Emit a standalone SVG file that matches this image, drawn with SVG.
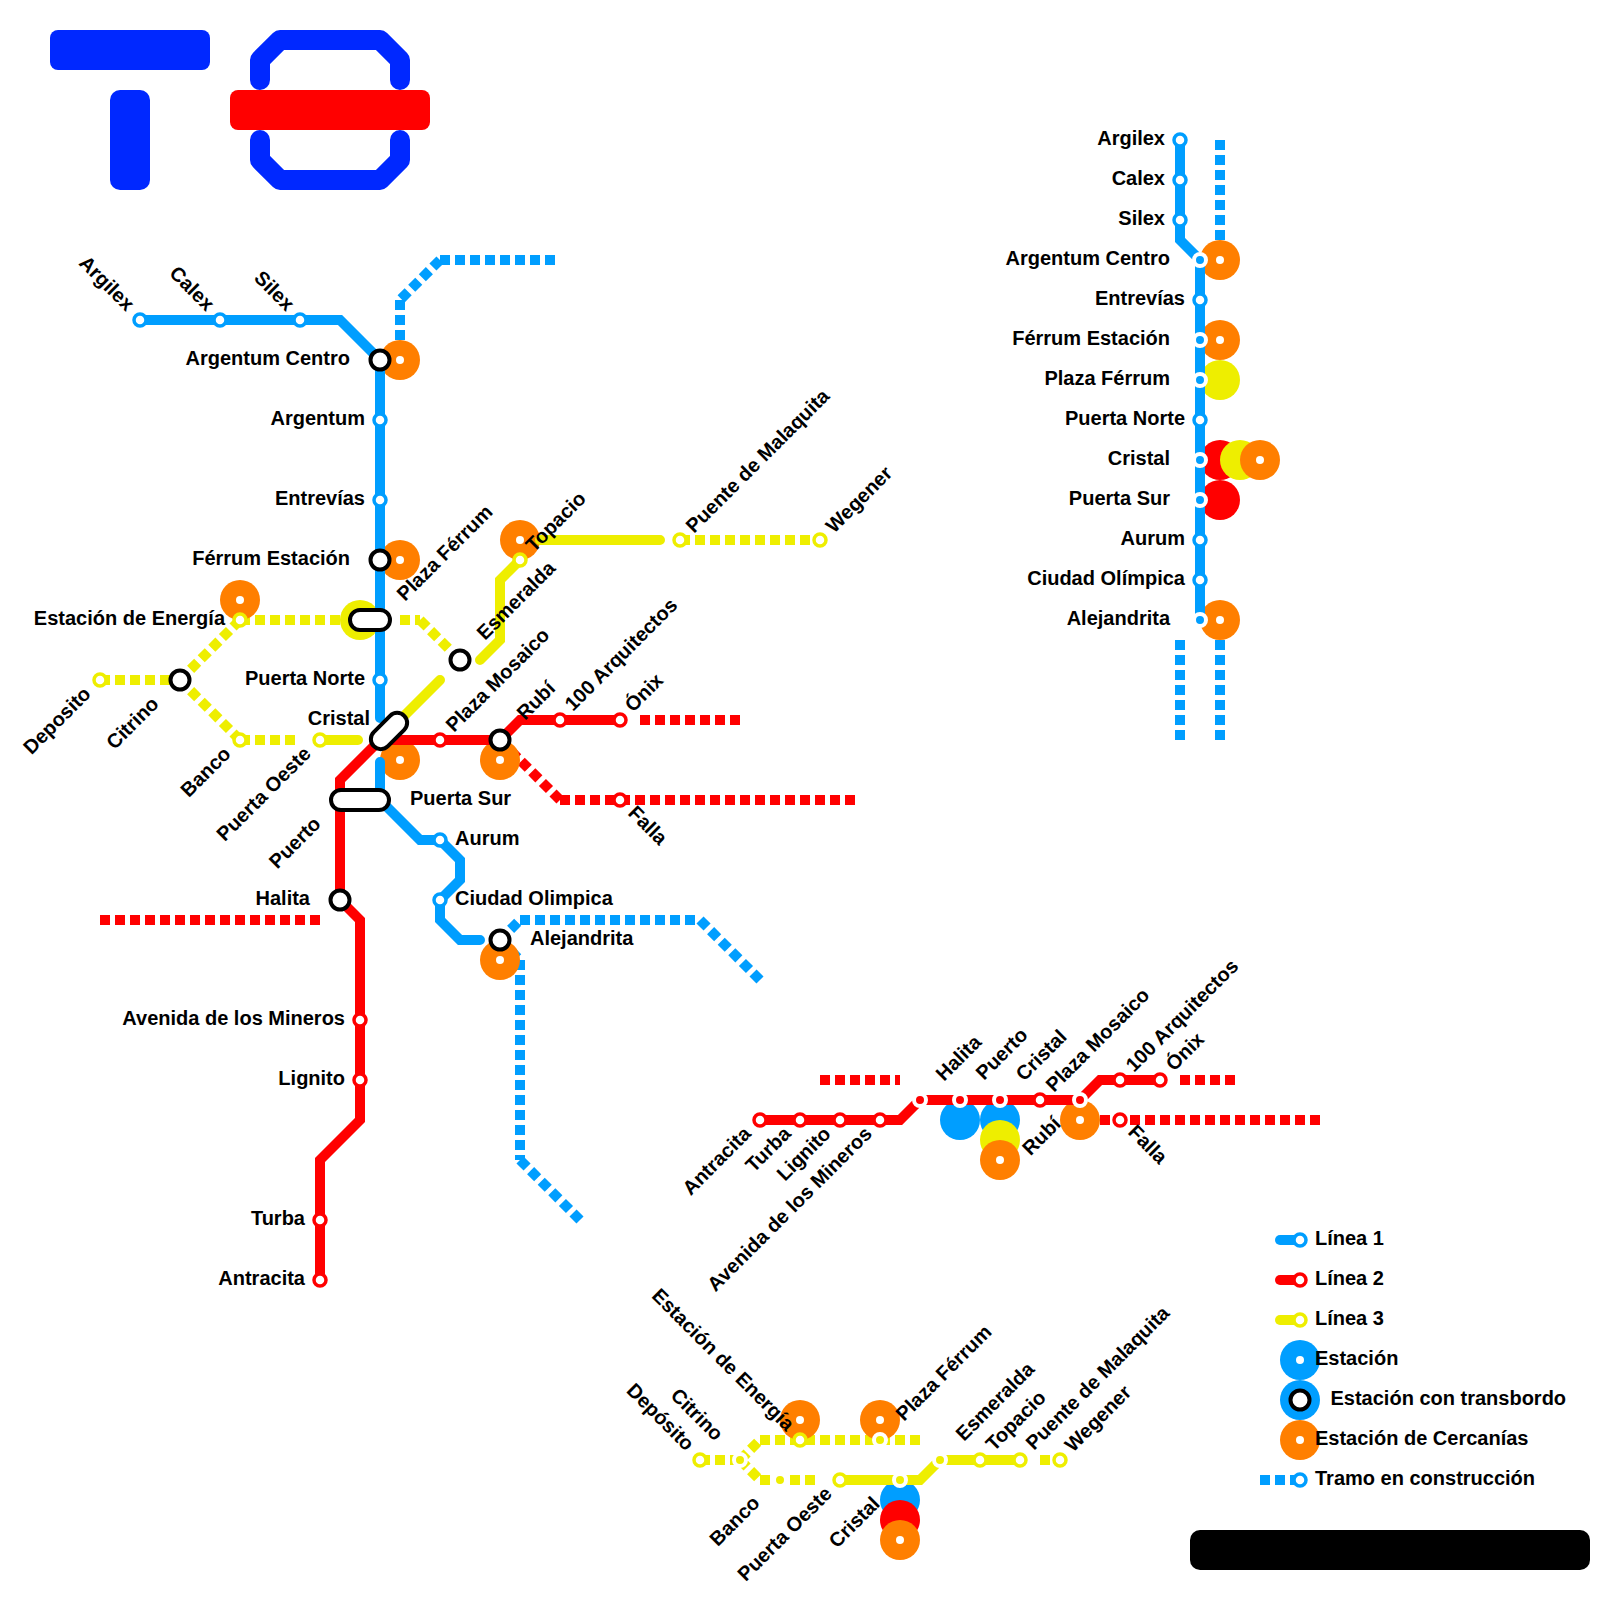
<svg xmlns="http://www.w3.org/2000/svg" width="1600" height="1600" viewBox="0 0 1600 1600">
<style>
text{font-family:"Liberation Sans",Arial,sans-serif;font-weight:bold;font-size:20px;fill:#000}
.e{text-anchor:end}
.ln{fill:none;stroke-width:10;stroke-linejoin:miter;stroke-linecap:round}
.da{fill:none;stroke-width:10;stroke-dasharray:10 5;stroke-linecap:butt;stroke-linejoin:miter}
.B{stroke:#009eff}.R{stroke:#ff0000}.Y{stroke:#eeee00}
.dB{fill:#009eff}.dR{fill:#ff0000}.dY{fill:#eeee00}.dO{fill:#ff7f00}
.dot{fill:#fff}
.st{fill:#fff;stroke-width:3.5}
.tb{stroke:#fff;stroke-width:4}
.tbB{fill:#009eff}.tbR{fill:#ff0000}.tbY{fill:#eeee00}
.ic{fill:#fff;stroke:#000;stroke-width:4}
</style>
<g id="logo">
<rect x="50" y="30" width="160" height="40" rx="8" fill="#0028ff"/>
<rect x="110" y="90" width="40" height="100" rx="10" fill="#0028ff"/>
<path d="M260,80V60L280,40H380L400,60V80M260,140V160L280,180H380L400,160V140" fill="none" stroke="#0028ff" stroke-width="20" stroke-linecap="round" stroke-linejoin="round"/>
<rect x="230" y="90" width="200" height="40" rx="8" fill="#ff0000"/>
</g>
<g id="connectors-construction">
<path class="da B" d="M400,300V360M440,260L400,300M440,260H560"/>
<path class="da B" d="M500,940L520,920M520,920H700M700,920L760,980"/>
<path class="da B" d="M500,940L520,960M520,960V1160M520,1160L580,1220"/>
<path class="da B" d="M1220,140V260M1180,640V740M1220,640V740"/>
<path class="da R" d="M640,720H740M500,740L560,800M560,800H860M100,920H320"/>
<path class="da R" d="M820,1080H900M1180,1080H1240M1100,1120H1320"/>
<path class="da Y" d="M100,680H180M180,680L240,620M240,620H360M180,680L240,740M240,740H300M400,620H420M420,620L449,649"/>
<path class="da Y" d="M680,540H820"/>
<path class="da Y" d="M700,1460H740M740,1460L760,1440M760,1440H920M740,1460L760,1480M760,1480H820M1040,1460H1060"/>
</g>
<g id="discs">
<circle class="dO" cx="400" cy="360" r="20"/><circle class="dO" cx="400" cy="560" r="20"/>
<circle class="dO" cx="240" cy="600" r="20"/><circle class="dY" cx="360" cy="620" r="20"/>
<circle class="dO" cx="520" cy="540" r="20"/><circle class="dO" cx="400" cy="760" r="20"/>
<circle class="dO" cx="500" cy="760" r="20"/><circle class="dO" cx="500" cy="960" r="20"/>
<circle class="dO" cx="1220" cy="260" r="20"/><circle class="dO" cx="1220" cy="340" r="20"/>
<circle class="dY" cx="1220" cy="380" r="20"/><circle class="dR" cx="1220" cy="460" r="20"/>
<circle class="dY" cx="1240" cy="460" r="20"/><circle class="dO" cx="1260" cy="460" r="20"/>
<circle class="dR" cx="1220" cy="500" r="20"/><circle class="dO" cx="1220" cy="620" r="20"/>
<circle class="dB" cx="960" cy="1120" r="20"/><circle class="dB" cx="1000" cy="1120" r="20"/>
<circle class="dY" cx="1000" cy="1140" r="20"/><circle class="dO" cx="1000" cy="1160" r="20"/>
<circle class="dO" cx="1080" cy="1120" r="20"/>
<circle class="dO" cx="800" cy="1420" r="20"/><circle class="dO" cx="880" cy="1420" r="20"/>
<circle class="dB" cx="900" cy="1500" r="20"/><circle class="dR" cx="900" cy="1520" r="20"/><circle class="dO" cx="900" cy="1540" r="20"/>
<g class="dot">
<circle cx="400" cy="360" r="4"/><circle cx="400" cy="560" r="4"/><circle cx="240" cy="600" r="4"/><circle cx="520" cy="540" r="4"/><circle cx="400" cy="760" r="4"/><circle cx="500" cy="760" r="4"/><circle cx="500" cy="960" r="4"/><circle cx="1220" cy="260" r="4"/><circle cx="1220" cy="340" r="4"/><circle cx="1260" cy="460" r="4"/><circle cx="1220" cy="620" r="4"/><circle cx="1000" cy="1160" r="4"/><circle cx="1080" cy="1120" r="4"/><circle cx="800" cy="1420" r="4"/><circle cx="880" cy="1420" r="4"/><circle cx="900" cy="1540" r="4"/>
</g>
</g>
<g id="connectors">
<path class="ln B" d="M140,320H340L380,360V718"/>
<path class="ln B" d="M380,762V800L420,840H440L460,860V880L440,900V920L460,940H480"/>
<path class="ln R" d="M320,1280V1160L360,1120V920L340,900V780L380,740H500L520,720H620"/>
<path class="ln Y" d="M320,740H358M400,720L440,680M480,660L500,640V580L520,560M540,540H660"/>
<path class="ln B" d="M1180,140V240L1200,260V620"/>
<path class="ln R" d="M760,1120H900L920,1100H1080L1100,1080H1160"/>
<path class="ln Y" d="M840,1480H920L940,1460H1020"/>
</g>
<g id="map-main">
<g id="m-argilex"><circle class="st B" cx="140" cy="320" r="6"/><text class="e" transform="translate(126,312) rotate(45)">Argilex</text></g>
<g id="m-calex"><circle class="st B" cx="220" cy="320" r="6"/><text class="e" transform="translate(206,312) rotate(45)">Calex</text></g>
<g id="m-silex"><circle class="st B" cx="300" cy="320" r="6"/><text class="e" transform="translate(286,312) rotate(45)">Silex</text></g>
<g id="m-argentum-centro"><circle class="ic" cx="380" cy="360" r="9.5"/><text class="e" x="350" y="365">Argentum Centro</text></g>
<g id="m-argentum"><circle class="st B" cx="380" cy="420" r="6"/><text class="e" x="365" y="425">Argentum</text></g>
<g id="m-entrevias"><circle class="st B" cx="380" cy="500" r="6"/><text class="e" x="365" y="505">Entrevías</text></g>
<g id="m-ferrum-estacion"><circle class="ic" cx="380" cy="560" r="9.5"/><text class="e" x="350" y="565">Férrum Estación</text></g>
<g id="m-plaza-ferrum"><rect class="ic" x="350" y="610" width="40" height="20" rx="10"/><text transform="translate(405,602) rotate(-45)">Plaza Férrum</text></g>
<g id="m-puerta-norte"><circle class="st B" cx="380" cy="680" r="6"/><text class="e" x="365" y="685">Puerta Norte</text></g>
<g id="m-cristal"><rect class="ic" x="-21.5" y="-10" width="43" height="20" rx="10" transform="translate(389,731) rotate(-45)"/><text class="e" x="370" y="725">Cristal</text></g>
<g id="m-puerta-sur"><text x="410" y="805">Puerta Sur</text></g>
<g id="m-puerto"><rect class="ic" x="331" y="790" width="58" height="20" rx="10"/><text class="e" transform="translate(322,825) rotate(-45)">Puerto</text></g>
<g id="m-aurum"><circle class="st B" cx="440" cy="840" r="6"/><text x="455" y="845">Aurum</text></g>
<g id="m-ciudad-olimpica"><circle class="st B" cx="440" cy="900" r="6"/><text x="455" y="905">Ciudad Olimpica</text></g>
<g id="m-alejandrita"><circle class="ic" cx="500" cy="940" r="9.5"/><text x="530" y="945">Alejandrita</text></g>
<g id="m-deposito"><circle class="st Y" cx="100" cy="680" r="6"/><text class="e" transform="translate(92,695) rotate(-45)">Deposito</text></g>
<g id="m-citrino"><circle class="ic" cx="180" cy="680" r="9.5"/><text class="e" transform="translate(160,705) rotate(-45)">Citrino</text></g>
<g id="m-estacion-energia"><circle class="st Y" cx="240" cy="620" r="6"/><text class="e" x="225" y="625">Estación de Energía</text></g>
<g id="m-banco"><circle class="st Y" cx="240" cy="740" r="6"/><text class="e" transform="translate(232,755) rotate(-45)">Banco</text></g>
<g id="m-puerta-oeste"><circle class="st Y" cx="320" cy="740" r="6"/><text class="e" transform="translate(312,755) rotate(-45)">Puerta Oeste</text></g>
<g id="m-plaza-mosaico"><circle class="st R" cx="440" cy="740" r="6"/><text transform="translate(454,733) rotate(-45)">Plaza Mosaico</text></g>
<g id="m-esmeralda"><circle class="ic" cx="460" cy="660" r="9.5"/><text transform="translate(485,641) rotate(-45)">Esmeralda</text></g>
<g id="m-topacio"><circle class="st Y" cx="520" cy="560" r="6"/><text transform="translate(534,553) rotate(-45)">Topacio</text></g>
<g id="m-puente"><circle class="st Y" cx="680" cy="540" r="6"/><text transform="translate(694,534) rotate(-45)">Puente de Malaquita</text></g>
<g id="m-wegener"><circle class="st Y" cx="820" cy="540" r="6"/><text transform="translate(834,534) rotate(-45)">Wegener</text></g>
<g id="m-rubi"><circle class="ic" cx="500" cy="740" r="9.5"/><text transform="translate(525,721) rotate(-45)">Rubí</text></g>
<g id="m-100"><circle class="st R" cx="560" cy="720" r="6"/><text transform="translate(573,712) rotate(-45)">100 Arquitectos</text></g>
<g id="m-onix"><circle class="st R" cx="620" cy="720" r="6"/><text transform="translate(633,713) rotate(-45)">Ónix</text></g>
<g id="m-falla"><circle class="st R" cx="620" cy="800" r="6"/><text transform="translate(627,814) rotate(45)">Falla</text></g>
<g id="m-halita"><circle class="ic" cx="340" cy="900" r="9.5"/><text class="e" x="310" y="905">Halita</text></g>
<g id="m-avenida"><circle class="st R" cx="360" cy="1020" r="6"/><text class="e" x="345" y="1025">Avenida de los Mineros</text></g>
<g id="m-lignito"><circle class="st R" cx="360" cy="1080" r="6"/><text class="e" x="345" y="1085">Lignito</text></g>
<g id="m-turba"><circle class="st R" cx="320" cy="1220" r="6"/><text class="e" x="305" y="1225">Turba</text></g>
<g id="m-antracita"><circle class="st R" cx="320" cy="1280" r="6"/><text class="e" x="305" y="1285">Antracita</text></g>
</g>
<g id="map-line1">
<g id="a-argilex"><circle class="st B" cx="1180" cy="140" r="6"/><text class="e" x="1165" y="145">Argilex</text></g>
<g id="a-calex"><circle class="st B" cx="1180" cy="180" r="6"/><text class="e" x="1165" y="185">Calex</text></g>
<g id="a-silex"><circle class="st B" cx="1180" cy="220" r="6"/><text class="e" x="1165" y="225">Silex</text></g>
<g id="a-argentum-centro"><circle class="tb tbB" cx="1200" cy="260" r="6"/><text class="e" x="1170" y="265">Argentum Centro</text></g>
<g id="a-entrevias"><circle class="st B" cx="1200" cy="300" r="6"/><text class="e" x="1185" y="305">Entrevías</text></g>
<g id="a-ferrum"><circle class="tb tbB" cx="1200" cy="340" r="6"/><text class="e" x="1170" y="345">Férrum Estación</text></g>
<g id="a-plaza-ferrum"><circle class="tb tbB" cx="1200" cy="380" r="6"/><text class="e" x="1170" y="385">Plaza Férrum</text></g>
<g id="a-puerta-norte"><circle class="st B" cx="1200" cy="420" r="6"/><text class="e" x="1185" y="425">Puerta Norte</text></g>
<g id="a-cristal"><circle class="tb tbB" cx="1200" cy="460" r="6"/><text class="e" x="1170" y="465">Cristal</text></g>
<g id="a-puerta-sur"><circle class="tb tbB" cx="1200" cy="500" r="6"/><text class="e" x="1170" y="505">Puerta Sur</text></g>
<g id="a-aurum"><circle class="st B" cx="1200" cy="540" r="6"/><text class="e" x="1185" y="545">Aurum</text></g>
<g id="a-ciudad"><circle class="st B" cx="1200" cy="580" r="6"/><text class="e" x="1185" y="585">Ciudad Olímpica</text></g>
<g id="a-alejandrita"><circle class="tb tbB" cx="1200" cy="620" r="6"/><text class="e" x="1170" y="625">Alejandrita</text></g>
</g>
<g id="map-line2">
<g id="b-antracita"><circle class="st R" cx="760" cy="1120" r="6"/><text class="e" transform="translate(752,1135) rotate(-45)">Antracita</text></g>
<g id="b-turba"><circle class="st R" cx="800" cy="1120" r="6"/><text class="e" transform="translate(792,1135) rotate(-45)">Turba</text></g>
<g id="b-lignito"><circle class="st R" cx="840" cy="1120" r="6"/><text class="e" transform="translate(832,1135) rotate(-45)">Lignito</text></g>
<g id="b-avenida"><circle class="st R" cx="880" cy="1120" r="6"/><text class="e" transform="translate(873,1135) rotate(-45)">Avenida de los Mineros</text></g>
<g id="b-halita"><circle class="tb tbR" cx="920" cy="1100" r="6"/><text transform="translate(944,1082) rotate(-45)">Halita</text></g>
<g id="b-puerto"><circle class="tb tbR" cx="960" cy="1100" r="6"/><text transform="translate(984,1081) rotate(-45)">Puerto</text></g>
<g id="b-cristal"><circle class="tb tbR" cx="1000" cy="1100" r="6"/><text transform="translate(1024,1082) rotate(-45)">Cristal</text></g>
<g id="b-plaza-mosaico"><circle class="st R" cx="1040" cy="1100" r="6"/><text transform="translate(1054,1093) rotate(-45)">Plaza Mosaico</text></g>
<g id="b-rubi"><circle class="tb tbR" cx="1080" cy="1100" r="6"/><text class="e" transform="translate(1062,1125) rotate(-45)">Rubí</text></g>
<g id="b-100"><circle class="st R" cx="1120" cy="1080" r="6"/><text transform="translate(1134,1073) rotate(-45)">100 Arquitectos</text></g>
<g id="b-onix"><circle class="st R" cx="1160" cy="1080" r="6"/><text transform="translate(1174,1072) rotate(-45)">Ónix</text></g>
<g id="b-falla"><circle class="st R" cx="1120" cy="1120" r="6"/><text transform="translate(1127,1133) rotate(45)">Falla</text></g>
</g>
<g id="map-line3">
<g id="c-deposito"><circle class="st Y" cx="700" cy="1460" r="6"/><text class="e" transform="translate(686,1452) rotate(45)">Depósito</text></g>
<g id="c-citrino"><circle class="tb tbY" cx="740" cy="1460" r="6"/><text class="e" transform="translate(715,1442) rotate(45)">Citrino</text></g>
<g id="c-energia"><circle class="st Y" cx="800" cy="1440" r="6"/><text class="e" transform="translate(786,1432) rotate(45)">Estación de Energía</text></g>
<g id="c-plaza-ferrum"><circle class="tb tbY" cx="880" cy="1440" r="6"/><text transform="translate(904,1422) rotate(-45)">Plaza Férrum</text></g>
<g id="c-banco"><circle class="tb tbY" cx="780" cy="1480" r="6"/><text class="e" transform="translate(761,1504) rotate(-45)">Banco</text></g>
<g id="c-puerta-oeste"><circle class="st Y" cx="840" cy="1480" r="6"/><text class="e" transform="translate(833,1495) rotate(-45)">Puerta Oeste</text></g>
<g id="c-cristal"><circle class="tb tbY" cx="900" cy="1480" r="6"/><text class="e" transform="translate(881,1505) rotate(-45)">Cristal</text></g>
<g id="c-esmeralda"><circle class="tb tbY" cx="940" cy="1460" r="6"/><text transform="translate(964,1442) rotate(-45)">Esmeralda</text></g>
<g id="c-topacio"><circle class="st Y" cx="980" cy="1460" r="6"/><text transform="translate(994,1452) rotate(-45)">Topacio</text></g>
<g id="c-puente"><circle class="st Y" cx="1020" cy="1460" r="6"/><text transform="translate(1034,1451) rotate(-45)">Puente de Malaquita</text></g>
<g id="c-wegener"><circle class="st Y" cx="1060" cy="1460" r="6"/><text transform="translate(1073,1453) rotate(-45)">Wegener</text></g>
</g>
<g id="legend">
<g id="leg-1"><path class="ln B" d="M1280,1240H1300"/><circle class="st B" cx="1300" cy="1240" r="6"/><text x="1315" y="1245">Línea 1</text></g>
<g id="leg-2"><path class="ln R" d="M1280,1280H1300"/><circle class="st R" cx="1300" cy="1280" r="6"/><text x="1315" y="1285">Línea 2</text></g>
<g id="leg-3"><path class="ln Y" d="M1280,1320H1300"/><circle class="st Y" cx="1300" cy="1320" r="6"/><text x="1315" y="1325">Línea 3</text></g>
<g id="leg-st"><circle class="dB" cx="1300" cy="1360" r="20"/><circle class="dot" cx="1300" cy="1360" r="4"/><text x="1315" y="1365">Estación</text></g>
<g id="leg-ic"><circle class="dB" cx="1300" cy="1400" r="20"/><circle class="ic" cx="1300" cy="1400" r="9.5"/><text x="1330.5" y="1405">Estación con transbordo</text></g>
<g id="leg-ce"><circle class="dO" cx="1300" cy="1440" r="20"/><circle class="dot" cx="1300" cy="1440" r="4"/><text x="1315" y="1445">Estación de Cercanías</text></g>
<g id="leg-co"><path class="da B" d="M1260,1480H1300"/><circle class="st B" cx="1300" cy="1480" r="6"/><text x="1315" y="1485">Tramo en construcción</text></g>
</g>
<rect id="blackout" x="1190" y="1530" width="400" height="40" rx="10" fill="#000"/>
</svg>
